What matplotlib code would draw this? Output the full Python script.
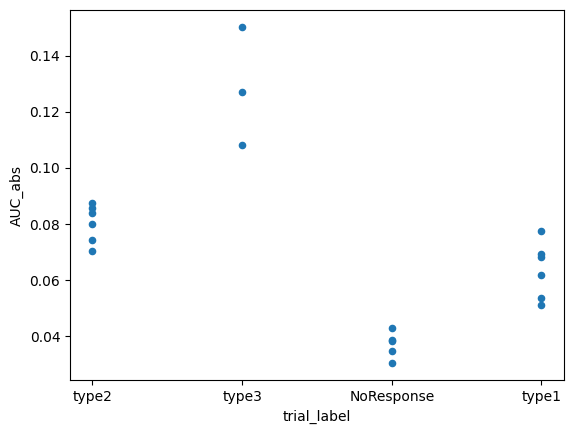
import matplotlib
matplotlib.use("Agg")
import matplotlib.pyplot as plt

# AUC_abs values per trial label
type2 = [0.0877, 0.0856, 0.0838, 0.0802, 0.0745, 0.0705]
type3 = [0.1503, 0.1270, 0.1081]
noresponse = [0.0431, 0.0387, 0.0384, 0.0349, 0.0304]
type1 = [0.0774, 0.0692, 0.0682, 0.0617, 0.0537, 0.0511]

labels = ['type2', 'type3', 'NoResponse', 'type1']
groups = [type2, type3, noresponse, type1]

x = []
y = []
for lab, vals in zip(labels, groups):
    x += [lab] * len(vals)
    y += vals

fig, ax = plt.subplots(figsize=(5.76, 4.33), dpi=100)
fig.subplots_adjust(left=0.1215, right=0.979, top=0.977, bottom=0.122)
ax.scatter(x, y, s=20, color='C0')
ax.set_xlabel('trial_label')
ax.set_ylabel('AUC_abs')

fig.savefig('out.png', dpi=100)
